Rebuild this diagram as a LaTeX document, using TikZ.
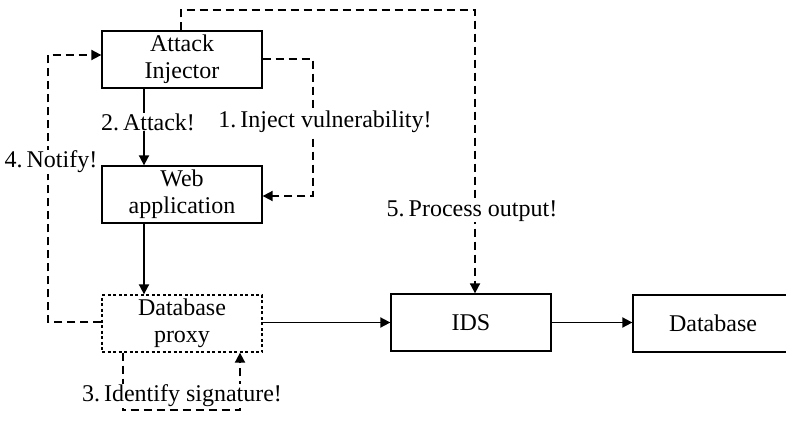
\documentclass[tikz,border=0pt]{standalone}
\usepackage{fontspec}
\setmainfont{Liberation Serif}
\usetikzlibrary{arrows.meta}
\begin{document}
\begin{tikzpicture}[x=1pt,y=-1pt,
  box/.style={draw, line width=1.3pt, minimum width=160pt, minimum height=57pt, inner sep=0pt, align=center, font=\fontsize{24}{27}\selectfont},
  proxybox/.style={box, dash pattern=on 3pt off 2.5pt},
  lbl/.style={font=\fontsize{24}{27}\selectfont, fill=white, inner sep=1pt},
  flow/.style={line width=1.8pt, -{Triangle[length=10pt,width=10pt]}},
  dflow/.style={flow, dash pattern=on 8pt off 5pt}]
\useasboundingbox (0,0) rectangle (786,433);
\clip (0,0) rectangle (786,433);
\node[box] (inj) at (182,59.5) {Attack\\Injector};
\node[box] (web) at (182,194.5) {Web\\application};
\node[proxybox] (proxy) at (182,323.5) {Database\\proxy};
\node[box] (ids) at (471,322.5) {IDS};
\node[box] (db) at (713,323.5) {Database};
\coordinate (c1a) at (313,59);
\coordinate (c1b) at (313,196);
\coordinate (c4a) at (48,322);
\coordinate (c4b) at (48,55);
\coordinate (c3a) at (123,410);
\coordinate (c3b) at (240,410);
\coordinate (c5a) at (181,10);
\coordinate (c5b) at (475,10);
\coordinate (a2) at (144,88);
% 1. inject
\draw[dflow] (inj.east |- c1a) -- (c1a) -- (c1b) -- (web.east |- c1b);
\node[lbl] at (325,122) {1.\,Inject vulnerability!};
% 2. attack
\draw[flow] (inj.south -| a2) -- (web.north -| a2);
\node[lbl] at (148,122) {2.\,Attack!};
% web -> proxy
\draw[flow] (web.south -| a2) -- (proxy.north -| a2);
% 4. notify
\draw[dflow] (proxy.west |- c4a) -- (c4a) -- (c4b) -- (inj.west |- c4b);
\node[lbl] at (51,162) {4.\,Notify!};
% 3. identify
\draw[dflow] (proxy.south -| c3a) -- (c3a) -- (c3b) -- (proxy.south -| c3b);
\node[lbl] at (182,396) {3.\,Identify signature!};
% 5. process
\draw[dflow] (inj.north -| c5a) -- (c5a) -- (c5b) -- (ids.north -| c5b);
\node[lbl] at (472,211) {5.\,Process output!};
% solid arrows
\draw[flow] (proxy.east |- ids.west) -- (ids.west);
\draw[flow] (ids.east) -- (db.west |- ids.east);
\end{tikzpicture}
\end{document}
